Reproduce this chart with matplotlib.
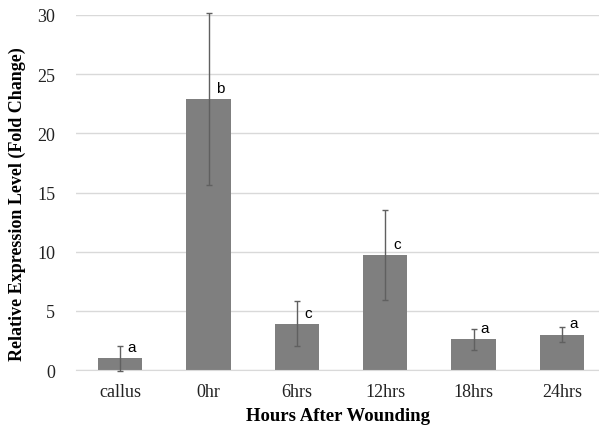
import matplotlib
matplotlib.use("Agg")
from matplotlib import pyplot as plt

# data
categories = ["callus", "0hr", "6hrs", "12hrs", "18hrs", "24hrs"]
means = [1.0, 22.9, 3.9, 9.7, 2.6, 3.0]
errors = [1.05, 7.3, 1.9, 3.8, 0.9, 0.6]
letters = ["a", "b", "c", "c", "a", "a"]
yticks = [0, 5, 10, 15, 20, 25, 30]

fig = plt.figure(figsize=(5.99, 4.31), dpi=100)
ax = fig.add_axes([0.127, 0.139, 0.873, 0.824])

x = list(range(len(categories)))
ax.bar(x, means, width=0.5, color="#7f7f7f", zorder=2)
eb = ax.errorbar(x, means, yerr=errors, fmt="none", ecolor="#606060",
                 elinewidth=1.0, capsize=2.5, capthick=1.0, zorder=3)
for part in eb.lines[1] + eb.lines[2]:
    part.set_clip_on(False)

# significance letters
for xi, m, lab in zip(x, means, letters):
    ax.text(xi + 0.13, m + 0.35, lab, ha="center", va="bottom",
            fontsize=11, family="Liberation Sans", color="black")

ax.set_xlim(-0.5, 5.42)
ax.set_ylim(0, 30)
ax.set_yticks(yticks)
ax.set_xticks(x)
ax.set_xticklabels(categories)
ax.grid(axis="y", color="#d9d9d9", linewidth=1.0, zorder=0)
ax.set_axisbelow(True)

for s in ["top", "right", "left"]:
    ax.spines[s].set_visible(False)
ax.spines["bottom"].set_color("#d9d9d9")
ax.tick_params(axis="both", length=0, labelsize=13, colors="#222222")
ax.tick_params(axis="x", pad=9)
ax.tick_params(axis="y", pad=15)
for t in ax.get_xticklabels() + ax.get_yticklabels():
    t.set_family("Liberation Serif")

ax.set_xlabel("Hours After Wounding", fontsize=13.5, fontweight="bold",
              family="Liberation Serif", labelpad=5)
ax.set_ylabel("Relative Expression Level (Fold Change)", fontsize=13,
              fontweight="bold", family="Liberation Serif")
ax.yaxis.set_label_coords(-0.096, 0.47)

plt.savefig("out.png", dpi=100)
